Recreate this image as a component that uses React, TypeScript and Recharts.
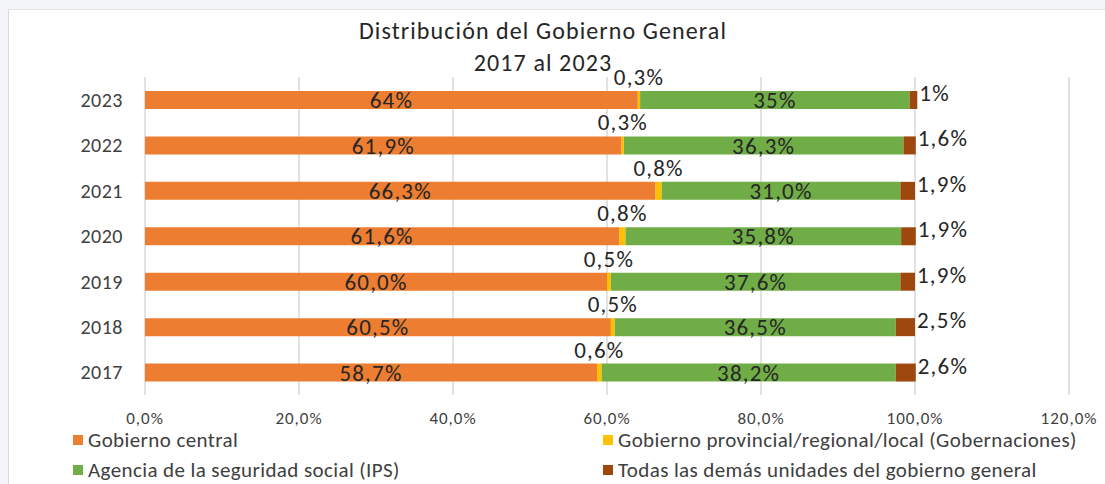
import React from "react";
import { BarChart, Bar, XAxis, YAxis, CartesianGrid, LabelList } from "recharts";

const years = ["2023", "2022", "2021", "2020", "2019", "2018", "2017"];
const central = [64, 61.9, 66.3, 61.6, 60.0, 60.5, 58.7];
const provincial = [0.3, 0.3, 0.8, 0.8, 0.5, 0.5, 0.6];
const ips = [35, 36.3, 31.0, 35.8, 37.6, 36.5, 38.2];
const others = [1, 1.6, 1.9, 1.9, 1.9, 2.5, 2.6];
// 2023 was labelled without decimals in the original
const labelDecimals = [0, 1, 1, 1, 1, 1, 1];
const xTicks = [0, 20, 40, 60, 80, 100, 120];

const seriesNames = {
  central: "Gobierno central",
  provincial: "Gobierno provincial/regional/local (Gobernaciones)",
  ips: "Agencia de la seguridad social (IPS)",
  others: "Todas las demás unidades del gobierno general",
};

const COLORS = {
  central: "#ED7D31",
  provincial: "#FFC000",
  ips: "#70AD47",
  others: "#9E480E",
};

const FONT = "Calibri, Carlito, 'Liberation Sans', Arial, sans-serif";
const TEXT = "#262626";
const LABEL_SIZE = 23;
const LABEL_SPACING = 1.2;

const pct = (v: number, d: number) => v.toFixed(d).replace(".", ",") + "%";

const data = years.map((year, i) => ({
  year,
  central: central[i],
  provincial: provincial[i],
  ips: ips[i],
  others: others[i],
  centralLabel: pct(central[i], labelDecimals[i]),
  provincialLabel: pct(provincial[i], 1),
  ipsLabel: pct(ips[i], labelDecimals[i]),
  othersLabel: pct(others[i], labelDecimals[i]),
}));

const AboveLabel = (props: any) => {
  const x = Number(props.x);
  const y = Number(props.y);
  const w = Number(props.width);
  return (
    <text x={x + w / 2} y={y - 6} textAnchor="middle" fill={TEXT} fontSize={LABEL_SIZE} letterSpacing={LABEL_SPACING} fontFamily={FONT}>
      {props.value}
    </text>
  );
};

const RightLabel = (props: any) => {
  const x = Number(props.x);
  const y = Number(props.y);
  const w = Number(props.width);
  const h = Number(props.height);
  return (
    <text x={x + w + 2} y={y + h / 2 + 1} textAnchor="start" fill={TEXT} fontSize={LABEL_SIZE} letterSpacing={LABEL_SPACING} fontFamily={FONT}>
      {props.value}
    </text>
  );
};

const legendItems = [
  { key: "central", left: 73, top: 440 },
  { key: "provincial", left: 603, top: 440 },
  { key: "ips", left: 73, top: 470 },
  { key: "others", left: 603, top: 470 },
] as const;

export default function App() {
  return (
    <div style={{ position: "absolute", left: 0, top: 0, width: 1105, height: 484, background: "#f3f5f8", overflow: "hidden", fontFamily: FONT }}>
      <div style={{ position: "absolute", left: 8, top: 9, width: 1097, height: 475, background: "#fff", borderLeft: "1px solid #dcdcdc", borderTop: "1px solid #e4e4e4" }} />
      <div style={{ position: "absolute", left: 293, top: 15, width: 500, textAlign: "center", fontSize: 24, letterSpacing: 1.1, lineHeight: "32px", color: TEXT }}>
        <div>Distribución del Gobierno General</div>
        <div>2017 al 2023</div>
      </div>
      <div style={{ position: "absolute", left: 0, top: 0 }}>
        <BarChart
          width={1105}
          height={484}
          layout="vertical"
          data={data}
          margin={{ top: 77, right: 36, left: 95, bottom: 49 }}
          barSize={18}
        >
          <CartesianGrid horizontal={false} stroke="#d9d9d9" strokeWidth={1.5} />
          <XAxis
            type="number"
            domain={[0, 120]}
            ticks={xTicks}
            tickFormatter={(v: number) => pct(v, 1)}
            axisLine={false}
            tickLine={false}
            tickMargin={11}
            height={40}
            tick={{ fill: "#404040", fontSize: 17, letterSpacing: 1, fontFamily: FONT }}
          />
          <YAxis
            type="category"
            dataKey="year"
            width={50}
            axisLine={false}
            tickLine={false}
            tickMargin={16}
            tick={{ fill: "#404040", fontSize: 20, letterSpacing: 0.5, fontFamily: FONT }}
          />
          <Bar dataKey="central" stackId="a" fill={COLORS.central} isAnimationActive={false}>
            <LabelList dataKey="centralLabel" position="center" fill={TEXT} fontSize={LABEL_SIZE} letterSpacing={LABEL_SPACING} fontFamily={FONT} />
          </Bar>
          <Bar dataKey="provincial" stackId="a" fill={COLORS.provincial} isAnimationActive={false}>
            <LabelList dataKey="provincialLabel" content={AboveLabel} />
          </Bar>
          <Bar dataKey="ips" stackId="a" fill={COLORS.ips} isAnimationActive={false}>
            <LabelList dataKey="ipsLabel" position="center" fill={TEXT} fontSize={LABEL_SIZE} letterSpacing={LABEL_SPACING} fontFamily={FONT} />
          </Bar>
          <Bar dataKey="others" stackId="a" fill={COLORS.others} isAnimationActive={false}>
            <LabelList dataKey="othersLabel" content={RightLabel} />
          </Bar>
        </BarChart>
      </div>
      {legendItems.map((it) => (
        <div key={it.key} style={{ position: "absolute", left: it.left, top: it.top - 12, height: 24, display: "flex", alignItems: "center", fontSize: 21, letterSpacing: 0.4, color: "#404040", whiteSpace: "nowrap" }}>
          <span style={{ display: "inline-block", width: 10, height: 10, background: COLORS[it.key], marginRight: 5 }} />
          {seriesNames[it.key]}
        </div>
      ))}
    </div>
  );
}
